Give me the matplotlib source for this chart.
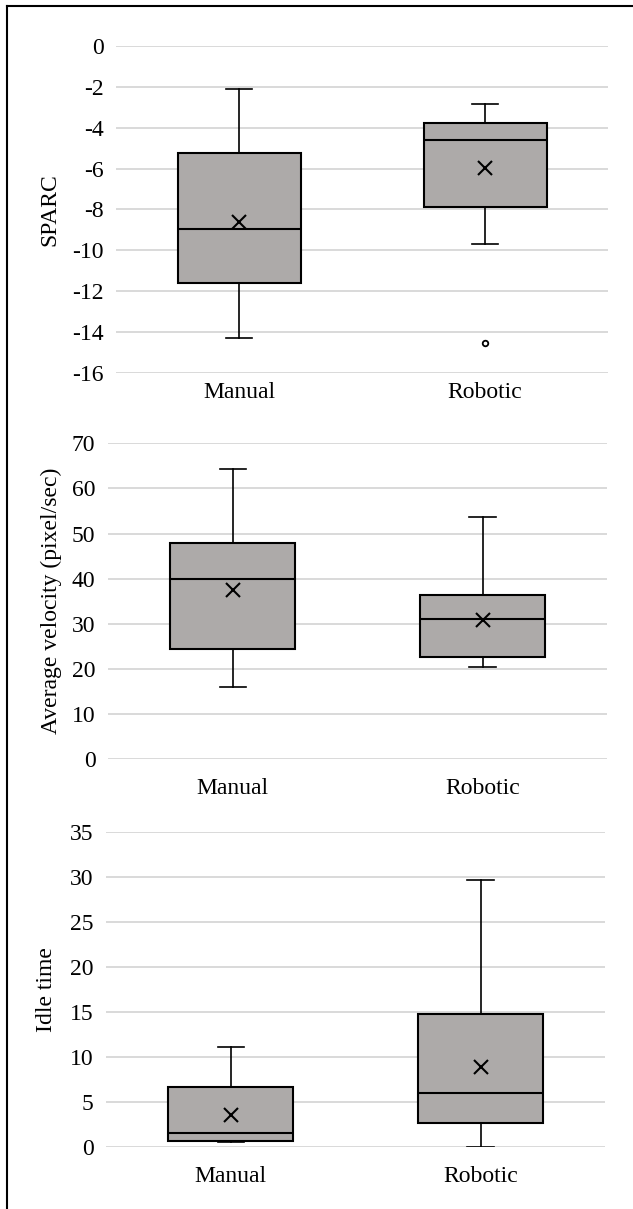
"""Box plots of SPARC, average velocity and idle time, manual vs robotic.

Three stacked panels in the Excel box-and-whisker style: grey boxes with black
edges, a cross for the mean and light horizontal gridlines.
"""

import matplotlib.pyplot as plt
from matplotlib.lines import Line2D

GROUPS = ["Manual", "Robotic"]

# SPARC (five-number summary, mean, outliers) per group
SPARC_WHISLO = [-14.3, -9.7]
SPARC_Q1 = [-11.62, -7.88]
SPARC_MEDIAN = [-8.98, -4.61]
SPARC_Q3 = [-5.24, -3.75]
SPARC_WHISHI = [-2.12, -2.82]
SPARC_MEAN = [-8.63, -5.98]
SPARC_FLIERS = [[], [-14.53]]

# Average velocity (pixel/sec)
VEL_WHISLO = [15.9, 20.45]
VEL_Q1 = [24.4, 22.7]
VEL_MEDIAN = [39.9, 31.0]
VEL_Q3 = [48.0, 36.3]
VEL_WHISHI = [64.25, 53.7]
VEL_MEAN = [37.5, 30.9]
VEL_FLIERS = [[], []]

# Idle time
IDLE_WHISLO = [0.55, 0.0]
IDLE_Q1 = [0.70, 2.70]
IDLE_MEDIAN = [1.59, 5.99]
IDLE_Q3 = [6.73, 14.82]
IDLE_WHISHI = [11.09, 29.67]
IDLE_MEAN = [3.62, 8.87]
IDLE_FLIERS = [[], []]

BOX_FACE = "#adaaa9"
GRID_COLOR = "#d9d9d9"
FONT = "Liberation Serif"

plt.rcParams["font.family"] = [FONT, "DejaVu Serif"]
plt.rcParams["axes.unicode_minus"] = False


def make_stats(whislo, q1, med, q3, whishi, mean, fliers):
    return [
        dict(label=g, whislo=whislo[i], q1=q1[i], med=med[i], q3=q3[i],
             whishi=whishi[i], mean=mean[i], fliers=fliers[i])
        for i, g in enumerate(GROUPS)
    ]


def draw_panel(ax, stats, ylim, yticks, ylabel, label_x, xpad):
    ax.bxp(
        stats,
        positions=[0, 1],
        widths=0.5,
        capwidths=0.105,
        showmeans=True,
        patch_artist=True,
        boxprops=dict(facecolor=BOX_FACE, edgecolor="black", linewidth=1.5),
        medianprops=dict(color="black", linewidth=1.5),
        whiskerprops=dict(color="black", linewidth=1.2),
        capprops=dict(color="black", linewidth=1.2),
        meanprops=dict(marker="x", markeredgecolor="black", markersize=10,
                       markeredgewidth=1.5),
        flierprops=dict(marker="o", markerfacecolor="white",
                        markeredgecolor="black", markersize=4,
                        markeredgewidth=1.3),
    )
    ax.set_xlim(-0.5, 1.5)
    ax.set_ylim(*ylim)
    ax.set_yticks(yticks, labels=[str(t) for t in yticks])
    ax.set_xticks([0, 1], labels=GROUPS)
    ax.set_axisbelow(True)
    ax.yaxis.grid(True, color=GRID_COLOR, linewidth=1.4)
    for spine in ax.spines.values():
        spine.set_visible(False)
    ax.tick_params(axis="y", length=0, pad=9, labelsize=17)
    ax.tick_params(axis="x", length=0, pad=xpad, labelsize=17)
    ax.set_ylabel(ylabel, fontsize=17)
    ax.yaxis.set_label_coords(label_x, 0.5)


fig = plt.figure(figsize=(6.33, 12.09), dpi=100)

ax1 = fig.add_axes([0.1833, 0.6915, 0.7773, 0.2705])
draw_panel(ax1,
           make_stats(SPARC_WHISLO, SPARC_Q1, SPARC_MEDIAN, SPARC_Q3,
                      SPARC_WHISHI, SPARC_MEAN, SPARC_FLIERS),
           (-16, 0), list(range(0, -17, -2)), "SPARC", -0.114, 6.5)

ax2 = fig.add_axes([0.1706, 0.3720, 0.789, 0.2614])
draw_panel(ax2,
           make_stats(VEL_WHISLO, VEL_Q1, VEL_MEDIAN, VEL_Q3,
                      VEL_WHISHI, VEL_MEAN, VEL_FLIERS),
           (0, 70), list(range(0, 71, 10)), "Average velocity (pixel/sec)",
           -0.092, 13.5)

ax3 = fig.add_axes([0.1675, 0.0510, 0.789, 0.2610])
draw_panel(ax3,
           make_stats(IDLE_WHISLO, IDLE_Q1, IDLE_MEDIAN, IDLE_Q3,
                      IDLE_WHISHI, IDLE_MEAN, IDLE_FLIERS),
           (0, 35), list(range(0, 36, 5)), "Idle time", -0.098, 13.5)

# frame of the cropped figure: only top and left edges are visible
fig.add_artist(Line2D([7 / 633, 1], [1 - 6 / 1209] * 2, color="black", linewidth=1.5))
fig.add_artist(Line2D([7 / 633] * 2, [0, 1 - 6 / 1209], color="black", linewidth=1.5))

fig.savefig("out.png", dpi=100)
